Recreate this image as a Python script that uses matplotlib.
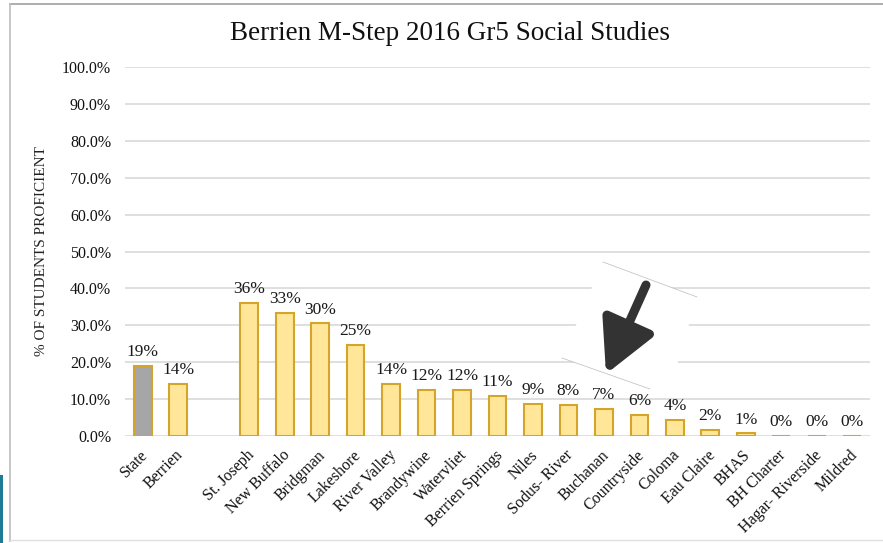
import matplotlib
matplotlib.use("Agg")
import matplotlib.pyplot as plt
import matplotlib.transforms as mtransforms
from matplotlib.patches import Polygon, Rectangle
from matplotlib.lines import Line2D

# data (blank slot between Berrien and St. Joseph)
districts = ['State', 'Berrien', '', 'St. Joseph', 'New Buffalo', 'Bridgman', 'Lakeshore',
             'River Valley', 'Brandywine', 'Watervliet', 'Berrien Springs', 'Niles',
             'Sodus- River', 'Buchanan', 'Countryside', 'Coloma', 'Eau Claire', 'BHAS',
             'BH Charter', 'Hagar- Riverside', 'Mildred']
proficient = [19.0, 14.2, None, 36.0, 33.4, 30.5, 24.7, 14.1, 12.5, 12.4, 10.9, 8.6,
              8.4, 7.4, 5.6, 4.4, 1.6, 0.7, 0.0, 0.0, 0.0]
value_labels = ['19%', '14%', '', '36%', '33%', '30%', '25%', '14%', '12%', '12%', '11%',
                '9%', '8%', '7%', '6%', '4%', '2%', '1%', '0%', '0%', '0%']
yticks = [0, 10, 20, 30, 40, 50, 60, 70, 80, 90, 100]

plt.rcParams['font.family'] = ['Liberation Serif', 'DejaVu Serif']

W, H = 883, 543
fig = plt.figure(figsize=(W / 100, H / 100), dpi=100)
ax = fig.add_axes([125 / W, 1 - 436 / H, 745 / W, 369 / H])

def fx(x):
    return x / W

def fy(y):
    return 1 - y / H

# bars
for i, (name, v) in enumerate(zip(districts, proficient)):
    if v is None:
        continue
    face = '#A6A6A6' if name == 'State' else '#FFE699'
    ax.bar(i, v, width=0.5, color=face, edgecolor='#D4A52A', linewidth=1.5, zorder=3)
    ax.text(i, v + 1.6, value_labels[i], ha='center', va='bottom', fontsize=12.5,
            color='#1A1A1A', zorder=4)

ax.set_xlim(-0.5, len(districts) - 0.5)
ax.set_ylim(0, 100)
ax.set_yticks(yticks)
ax.set_yticklabels([f'{t:.1f}%' for t in yticks], fontsize=11.5, color='#111111')
ax.set_xticks(range(len(districts)))
ax.set_xticklabels(districts, rotation=45, ha='right', rotation_mode='anchor',
                   fontsize=11.5, color='#111111')
ax.tick_params(axis='both', length=0)
ax.tick_params(axis='y', pad=10)
ax.tick_params(axis='x', pad=8)
# nudge rotated labels a little left, like the original
shift = mtransforms.ScaledTranslation(-0.03, 0, fig.dpi_scale_trans)
for lab in ax.get_xticklabels():
    lab.set_transform(lab.get_transform() + shift)
ax.set_axisbelow(True)
ax.grid(axis='y', color='#D9D9D9', linewidth=1.2)
for s in ax.spines.values():
    s.set_visible(False)
ax.set_ylabel('% OF STUDENTS PROFICIENT', fontsize=11, color='#222222', labelpad=10)

fig.text(fx(450), fy(33), 'Berrien M-Step 2016 Gr5 Social Studies', ha='center', va='center',
         fontsize=19.5, color='#111111')

# white patch behind the arrow (pasted image hides the gridlines)
patch = Polygon([(fx(603), fy(262)), (fx(697), fy(297)), (fx(668), fy(396)), (fx(562), fy(358))],
                closed=True, facecolor='white', edgecolor='none', transform=fig.transFigure,
                zorder=1.5, clip_on=False)
ax.add_patch(patch)
ax.add_line(Line2D([fx(603), fx(697)], [fy(262), fy(297)], transform=fig.transFigure,
                   color='#BBBBBB', linewidth=0.5, zorder=1.6))
ax.add_line(Line2D([fx(562), fx(650)], [fy(358), fy(389)], transform=fig.transFigure,
                   color='#BBBBBB', linewidth=0.5, zorder=1.6))

ax.annotate('', xy=(606, H - 374), xytext=(646, H - 285), xycoords='figure pixels',
            textcoords='figure pixels',
            arrowprops=dict(arrowstyle='-|>,head_length=0.8,head_width=0.42', lw=6.5,
                            color='#333333', mutation_scale=40, shrinkA=0, shrinkB=0),
            zorder=5)

# slide frame
fig.add_artist(Line2D([fx(10), fx(W)], [fy(4), fy(4)], transform=fig.transFigure,
                      color='#A0A0A0', linewidth=1.2))
fig.add_artist(Line2D([fx(10), fx(10)], [fy(4), fy(541)], transform=fig.transFigure,
                      color='#BDBDBD', linewidth=1.2))
fig.add_artist(Line2D([fx(10), fx(W)], [fy(540), fy(540)], transform=fig.transFigure,
                      color='#E0E0E0', linewidth=1.0))
fig.add_artist(Rectangle((0, 0), fx(3), fy(475), transform=fig.transFigure,
                         facecolor='#1F7A96', edgecolor='none'))

fig.savefig('out.png', dpi=100)
